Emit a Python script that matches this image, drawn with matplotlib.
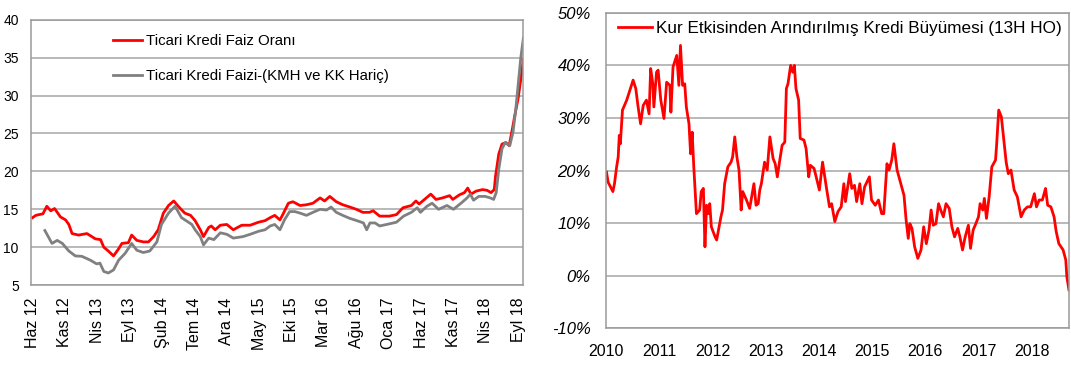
import matplotlib
matplotlib.use("Agg")
import matplotlib.pyplot as plt
from matplotlib.ticker import FuncFormatter

plt.rcParams['font.family'] = ['Liberation Sans', 'DejaVu Sans']

# left panel: months counted from Haz 12 (Jun 2012)
red_m = [0, 0.5, 1, 1.6, 2.2, 2.8, 3.4, 4.3, 5.1, 5.6, 6.1, 7.1, 8.4, 9.7, 10.5, 11, 11.7, 12.5,
         13.3, 13.8, 14.8, 15.3, 16.1, 17.1, 17.9, 18.7, 19.4, 20.2, 21, 21.8, 22.5, 23.5, 24.4,
         25.1, 25.9, 26.4, 27.2, 27.6, 28.2, 29, 30, 31, 32.3, 33.6, 34.9, 35.9, 36.7, 37.4, 38.2,
         38.7, 39.5, 40.2, 41.3, 42.3, 43.3, 44.4, 45.1, 45.9, 46.9, 47.9, 49, 50, 51, 52, 52.6,
         53.6, 55.1, 56.2, 57.2, 58.5, 59.2, 59.7, 60.8, 61.5, 62.3, 63.3, 64.4, 64.9, 65.9, 66.7,
         67.2, 67.7, 68.5, 69.5, 70.2, 70.8, 71.3, 71.5, 72, 72.5, 73.1, 73.6, 74.1, 74.5, 75, 75.5, 75.8]
red_val = [13.9, 14.2, 14.3, 14.4, 15.4, 14.8, 15.1, 14.0, 13.6, 13.0, 11.8, 11.6, 11.8, 11.1, 11.0,
           10.0, 9.5, 8.85, 9.8, 10.5, 10.6, 11.6, 10.9, 10.7, 10.7, 11.4, 12.3, 14.5, 15.5, 16.1,
           15.4, 14.5, 14.2, 13.5, 12.3, 11.4, 12.6, 12.8, 12.3, 12.9, 13.0, 12.3, 12.9, 12.9, 13.3,
           13.5, 13.9, 14.2, 13.6, 14.4, 15.8, 16.0, 15.5, 15.6, 15.8, 16.5, 16.1, 16.7, 16.0, 15.6,
           15.3, 15.0, 14.6, 14.6, 14.8, 14.1, 14.1, 14.3, 15.2, 15.5, 16.1, 15.7, 16.5, 17.0, 16.3,
           16.5, 16.8, 16.3, 16.9, 17.2, 17.8, 17.0, 17.4, 17.6, 17.5, 17.2, 17.6, 19.4, 22.3, 23.6,
           23.8, 23.4, 25.6, 27.5, 29.7, 32.8, 34.8]

gray_m = [1.9, 3, 3.8, 4.6, 5.6, 6.6, 7.6, 8.9, 9.9, 10.4, 11, 11.7, 12.5, 13.3, 14.3, 15.3, 16.1,
          17.1, 18.1, 19.2, 19.9, 21, 22, 23, 24.6, 25.1, 25.9, 26.4, 27.2, 28, 29, 30, 31, 32.5,
          33.6, 34.9, 35.9, 36.7, 37.4, 38.2, 38.9, 39.7, 40.5, 41.3, 42.3, 43.3, 44.4, 45.4, 46.1,
          46.9, 47.9, 49, 50.1, 51.1, 51.6, 52.1, 52.9, 53.6, 55.2, 56.2, 57.3, 58.5, 59.4, 59.9,
          60.9, 61.7, 62.7, 64, 65, 66.3, 67.1, 67.6, 68.1, 68.9, 69.9, 70.7, 71.2, 71.6, 72, 72.5,
          73, 73.7, 74.2, 74.6, 75, 75.4, 75.8]
gray_val = [12.2, 10.5, 10.9, 10.5, 9.5, 8.85, 8.8, 8.3, 7.8, 7.9, 6.8, 6.6, 7.0, 8.3, 9.2, 10.5, 9.6,
            9.3, 9.5, 10.7, 13.0, 14.5, 15.4, 13.9, 13.0, 12.3, 11.4, 10.3, 11.2, 11.0, 11.9, 11.7,
            11.2, 11.4, 11.7, 12.1, 12.3, 12.8, 13.0, 12.3, 13.6, 14.7, 14.7, 14.5, 14.2, 14.6, 15.0,
            14.9, 15.3, 14.6, 14.2, 13.8, 13.5, 13.2, 12.3, 13.2, 13.2, 12.8, 13.1, 13.3, 14.1, 14.6,
            15.2, 14.6, 15.4, 15.8, 15.0, 15.5, 15.0, 15.9, 16.5, 17.0, 16.2, 16.7, 16.7, 16.5, 16.3,
            17.2, 20.3, 23.0, 23.8, 23.4, 25.2, 28.0, 31.5, 35.0, 37.6]

left_ticks = ["Haz 12", "Kas 12", "Nis 13", "Eyl 13", "Şub 14", "Tem 14", "Ara 14", "May 15",
              "Eki 15", "Mar 16", "Ağu 16", "Oca 17", "Haz 17", "Kas 17", "Nis 18", "Eyl 18"]

# right panel: decimal years, % growth
growth_t = [2010.01, 2010.04, 2010.13, 2010.16, 2010.2, 2010.23, 2010.25, 2010.27, 2010.31, 2010.39,
            2010.45, 2010.51, 2010.56, 2010.6, 2010.65, 2010.7, 2010.76, 2010.81, 2010.84, 2010.88,
            2010.9, 2010.95, 2010.98, 2011.03, 2011.09, 2011.14, 2011.2, 2011.22, 2011.26, 2011.33,
            2011.37, 2011.4, 2011.44, 2011.48, 2011.51, 2011.56, 2011.59, 2011.62, 2011.65, 2011.7,
            2011.76, 2011.79, 2011.83, 2011.86, 2011.89, 2011.92, 2011.95, 2011.98, 2012.05, 2012.08,
            2012.16, 2012.19, 2012.23, 2012.29, 2012.35, 2012.38, 2012.42, 2012.46, 2012.5, 2012.54,
            2012.57, 2012.64, 2012.7, 2012.78, 2012.82, 2012.86, 2012.89, 2012.92, 2012.98, 2013.03,
            2013.08, 2013.14, 2013.18, 2013.22, 2013.26, 2013.31, 2013.36, 2013.39, 2013.42, 2013.47,
            2013.51, 2013.54, 2013.57, 2013.62, 2013.65, 2013.72, 2013.76, 2013.81, 2013.84, 2013.91,
            2013.95, 2014.01, 2014.07, 2014.14, 2014.2, 2014.24, 2014.3, 2014.36, 2014.42, 2014.47,
            2014.5, 2014.58, 2014.62, 2014.67, 2014.71, 2014.77, 2014.81, 2014.86, 2014.95, 2014.99,
            2015.06, 2015.12, 2015.18, 2015.22, 2015.28, 2015.32, 2015.37, 2015.41, 2015.47, 2015.54,
            2015.6, 2015.64, 2015.68, 2015.71, 2015.75, 2015.8, 2015.86, 2015.92, 2015.97, 2016.02,
            2016.07, 2016.11, 2016.15, 2016.2, 2016.25, 2016.29, 2016.34, 2016.39, 2016.45, 2016.5,
            2016.55, 2016.61, 2016.65, 2016.7, 2016.75, 2016.81, 2016.85, 2016.9, 2016.95, 2017.0,
            2017.03, 2017.08, 2017.11, 2017.15, 2017.2, 2017.25, 2017.32, 2017.34, 2017.38, 2017.43,
            2017.47, 2017.52, 2017.56, 2017.61, 2017.67, 2017.73, 2017.8, 2017.86, 2017.92, 2017.98,
            2018.05, 2018.09, 2018.14, 2018.2, 2018.26, 2018.3, 2018.36, 2018.42, 2018.46, 2018.51,
            2018.59, 2018.64, 2018.66, 2018.7]
growth_v = [19.7, 17.8, 16.0, 17.5, 20.7, 22.6, 26.7, 25.1, 31.5, 33.4, 35.3, 37.2, 35.6, 32.4, 28.9,
            32.4, 33.4, 30.8, 39.4, 36.5, 32.1, 38.7, 39.1, 33.4, 29.9, 36.8, 36.2, 31.1, 39.7, 41.9,
            36.2, 43.8, 36.2, 36.5, 32.1, 28.9, 23.2, 27.3, 20.7, 11.8, 12.5, 16.0, 16.6, 5.5, 13.4,
            11.8, 13.7, 9.3, 7.4, 6.8, 11.2, 12.5, 17.5, 20.7, 21.6, 22.6, 26.4, 22.6, 20.1, 12.5,
            16.0, 14.4, 12.8, 17.5, 13.4, 13.7, 16.3, 17.5, 21.6, 20.1, 26.4, 22.3, 21.3, 18.8, 21.6,
            24.8, 25.4, 35.6, 36.5, 40.0, 38.7, 40.0, 35.6, 33.4, 26.1, 25.8, 24.2, 18.8, 21.0, 20.4,
            18.8, 16.3, 21.6, 16.9, 13.1, 13.7, 10.3, 12.2, 13.1, 17.5, 14.1, 19.4, 16.6, 17.2, 14.1,
            17.5, 13.7, 16.9, 18.8, 14.4, 13.4, 14.4, 11.8, 11.8, 21.3, 20.1, 22.0, 25.1, 20.1, 17.5,
            15.3, 10.6, 7.1, 9.9, 9.0, 5.5, 3.3, 4.9, 9.3, 6.1, 8.7, 12.5, 9.6, 9.9, 13.7, 12.5, 11.2,
            13.7, 12.8, 9.3, 7.4, 9.0, 7.4, 4.9, 7.4, 9.6, 5.2, 8.7, 9.9, 11.2, 13.7, 12.5, 14.7, 10.9,
            15.0, 20.7, 22.0, 24.8, 31.5, 30.2, 26.4, 21.6, 19.4, 20.1, 16.3, 15.0, 11.2, 12.5, 13.1,
            13.1, 15.6, 13.1, 14.4, 14.4, 16.6, 13.4, 13.1, 11.2, 8.4, 6.1, 4.9, 3.0, -0.2, -2.7]

years = list(range(2010, 2019))

fig = plt.figure(figsize=(10.71, 3.66), dpi=100)
ax1 = fig.add_axes([0.0292, 0.221, 0.4595, 0.725])
ax2 = fig.add_axes([0.5658, 0.103, 0.4323, 0.862])

grid_c = '#A6A6A6'
for ax in (ax1, ax2):
    ax.grid(axis='y', color=grid_c, lw=1.1)
    ax.set_axisbelow(True)
    for s in ax.spines.values():
        s.set_color('#9A9A9A')
        s.set_linewidth(1.1)
    ax.tick_params(length=0)

ax1.plot(red_m, red_val, color='#FF0000', lw=2.0, label="Ticari Kredi Faiz Oranı")
ax1.plot(gray_m, gray_val, color='#808080', lw=2.0, label="Ticari Kredi Faizi-(KMH ve KK Hariç)")
ax1.set_xlim(-0.2, 75.8)
ax1.set_ylim(5, 40)
ax1.set_yticks(range(5, 41, 5))
ax1.set_xticks(range(0, 76, 5))
ax1.set_xticklabels(left_ticks, rotation=90, fontsize=11.5)
ax1.tick_params(axis='y', labelsize=10, pad=9)
ax1.tick_params(axis='x', pad=9)
ax1.legend(loc='upper left', bbox_to_anchor=(0.167, 0.945), frameon=False, fontsize=10.8,
           handlelength=1.9, handletextpad=0.3, labelspacing=1.4, borderpad=0, borderaxespad=0)

ax2.plot(growth_t, growth_v, color='#FF0000', lw=2.0,
         label="Kur Etkisinden Arındırılmış Kredi Büyümesi (13H HO)")
ax2.set_xlim(2010, 2018.7)
ax2.set_ylim(-10, 50)
ax2.set_yticks(range(-10, 51, 10))
ax2.yaxis.set_major_formatter(FuncFormatter(lambda v, p: f"{v:.0f}%"))
ax2.set_xticks(years)
ax2.set_xticklabels([str(y) for y in years])
ax2.tick_params(axis='y', labelsize=12, pad=11)
ax2.tick_params(axis='x', labelsize=11.5, pad=11)
for lab in ax2.get_yticklabels():
    lab.set_fontstyle('italic')
ax2.legend(loc='upper left', bbox_to_anchor=(0.026, 0.975), frameon=False, fontsize=12.3,
           handlelength=2.0, handletextpad=0.2, borderpad=0, borderaxespad=0)

fig.savefig("out.png", dpi=100)
